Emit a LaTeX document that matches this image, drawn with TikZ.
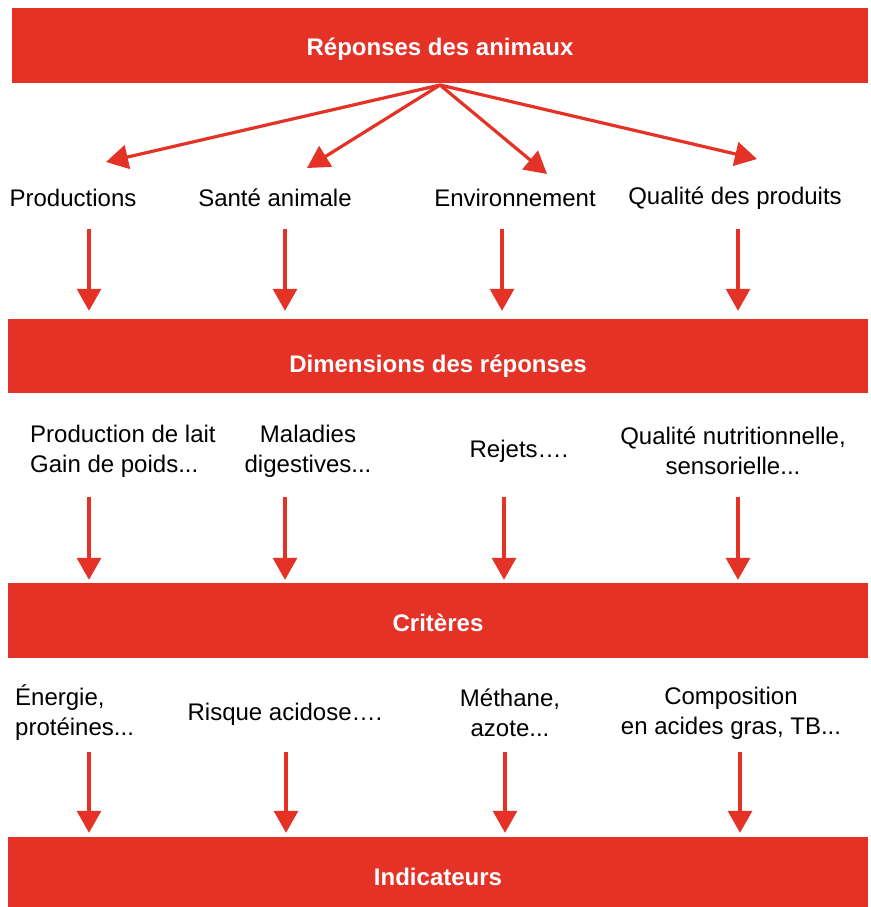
\documentclass[tikz,border=0pt]{standalone}
\usepackage{fontspec}
\setmainfont{Liberation Sans}
\usetikzlibrary{arrows.meta}
\definecolor{ired}{RGB}{228,50,38}
\tikzset{
  bar/.style={fill=ired, draw=none, inner sep=0pt, text=white, text depth=0pt, font=\fontsize{24}{28}\selectfont\bfseries},
  lbl/.style={inner sep=0pt, font=\fontsize{24}{30}\selectfont, text=black},
  arr/.style={draw=ired, line width=3.2pt, -{Triangle[width=24pt,length=22pt]}}
}
\begin{document}
\begin{tikzpicture}[x=1pt,y=-1pt]
\useasboundingbox (0,0) rectangle (870,907);
% bars
\node[bar, minimum width=856pt, minimum height=75pt, text height=20.5pt] (b1) at (440,45.5) {Réponses des animaux};
\node[bar, minimum width=860pt, minimum height=74pt, text height=33.5pt] (b2) at (438,356) {Dimensions des réponses};
\node[bar, minimum width=860pt, minimum height=75pt, text height=22.5pt] (b3) at (438,620.5) {Critères};
\node[bar, minimum width=860pt, minimum height=70pt, text height=27.5pt] (b4) at (438,872) {Indicateurs};
% row 1 labels
\node[lbl] (p1) at (73,198) {Productions};
\node[lbl] (p2) at (275,198) {Santé animale};
\node[lbl] (p3) at (515,198) {Environnement};
\node[lbl] (p4) at (735,198) {Qualité des produits};
% row 2 labels
\node[lbl, align=left, anchor=west] (d1) at (30,451) {Production de lait\\Gain de poids...};
\node[lbl, align=center] (d2) at (308,451) {Maladies\\digestives...};
\node[lbl] (d3) at (519,451) {Rejets….};
\node[lbl, align=center] (d4) at (733,451) {Qualité nutritionnelle,\\sensorielle...};
% row 3 labels
\node[lbl, align=left, anchor=west] (c1) at (15,713) {Énergie,\\protéines...};
\node[lbl] (c2) at (285,714) {Risque acidose….};
\node[lbl, align=center] (c3) at (510,713) {Méthane,\\azote...};
\node[lbl, align=center] (c4) at (731,713) {Composition\\en acides gras, TB...};
% fan-out arrows
\coordinate (o) at (440,85);
\coordinate (t1) at (106,162);
\coordinate (t2) at (307,168);
\coordinate (t3) at (547,174);
\coordinate (t4) at (757,159);
\draw[arr] (o) -- (t1);
\draw[arr] (o) -- (t2);
\draw[arr] (o) -- (t3);
\draw[arr] (o) -- (t4);
% vertical arrows row 1
\foreach \i/\x in {1/89,2/285,3/502,4/738}{
  \coordinate (s1\i) at (\x,229);
  \draw[arr] (s1\i) -- ([yshift=8pt]s1\i |- b2.north);
}
% vertical arrows row 2
\foreach \i/\x in {1/89,2/285,3/504,4/738}{
  \coordinate (s2\i) at (\x,497);
  \draw[arr] (s2\i) -- ([yshift=3pt]s2\i |- b3.north);
}
% vertical arrows row 3
\foreach \i/\x in {1/89,2/286,3/505,4/740}{
  \coordinate (s3\i) at (\x,752);
  \draw[arr] (s3\i) -- ([yshift=4pt]s3\i |- b4.north);
}
\end{tikzpicture}
\end{document}
